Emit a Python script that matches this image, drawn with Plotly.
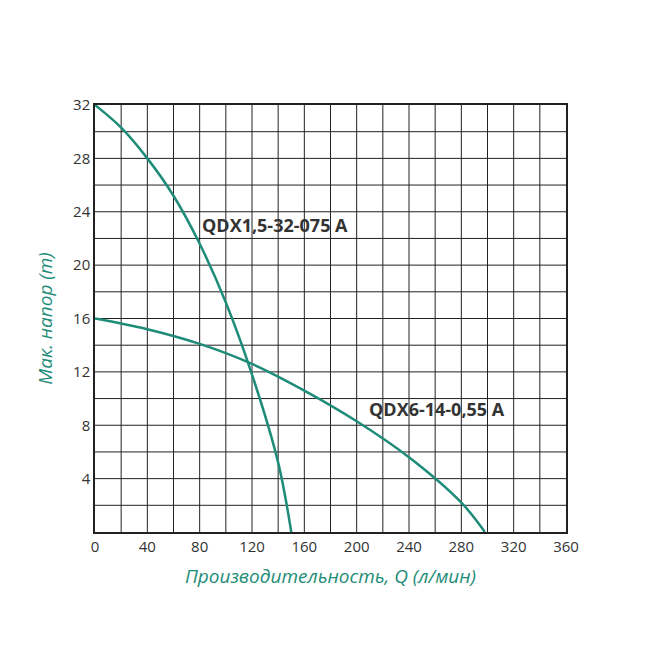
import plotly.graph_objects as go

q1 = [0, 20, 40, 60, 80, 100, 120, 140, 150]
h1 = [32, 30.3, 28, 25.2, 21.6, 17.2, 11.8, 5.2, 0]
q2 = [0, 40, 80, 120, 160, 200, 240, 280, 298]
h2 = [16, 15.2, 14.1, 12.6, 10.6, 8.3, 5.6, 2.2, 0]
label1 = "QDX1,5-32-075 A"
label2 = "QDX6-14-0,55 A"
col = "#1e8c78"

fig = go.Figure()
fig.add_trace(go.Scatter(x=q1, y=h1, mode="lines", line=dict(color=col, width=2.5, shape="spline")))
fig.add_trace(go.Scatter(x=q2, y=h2, mode="lines", line=dict(color=col, width=2.5, shape="spline")))
fig.add_annotation(x=80, y=23, text="<b>" + label1 + "</b>", showarrow=False, xanchor="left",
                   font=dict(size=18, color="#333", family="Open Sans"))
fig.add_annotation(x=208, y=9.2, text="<b>" + label2 + "</b>", showarrow=False, xanchor="left",
                   font=dict(size=18, color="#333", family="Open Sans"))
fig.update_layout(
    width=650, height=650, showlegend=False, plot_bgcolor="white", paper_bgcolor="white",
    margin=dict(l=87, r=92, t=97, b=126),
    font=dict(family="Open Sans", size=15, color="#333"),
    xaxis=dict(range=[0, 360], tickvals=list(range(0, 361, 40)), showgrid=False,
               showline=True, linecolor="#222", linewidth=1.5, mirror=True,
               title=dict(text="<i>Производительность, Q (л/мин)</i>", font=dict(size=19, color=col))),
    yaxis=dict(range=[0, 32], tickvals=list(range(4, 33, 4)), showgrid=False,
               showline=True, linecolor="#222", linewidth=1.5, mirror=True,
               title=dict(text="<i>Мак. напор (m)</i>", font=dict(size=19, color=col))),
)
for x in range(20, 360, 20):
    fig.add_shape(type="line", x0=x, x1=x, y0=0, y1=32, line=dict(color="#222", width=1), layer="below")
for y in range(2, 32, 2):
    fig.add_shape(type="line", x0=0, x1=360, y0=y, y1=y, line=dict(color="#222", width=1), layer="below")
fig.write_html("out.html")
